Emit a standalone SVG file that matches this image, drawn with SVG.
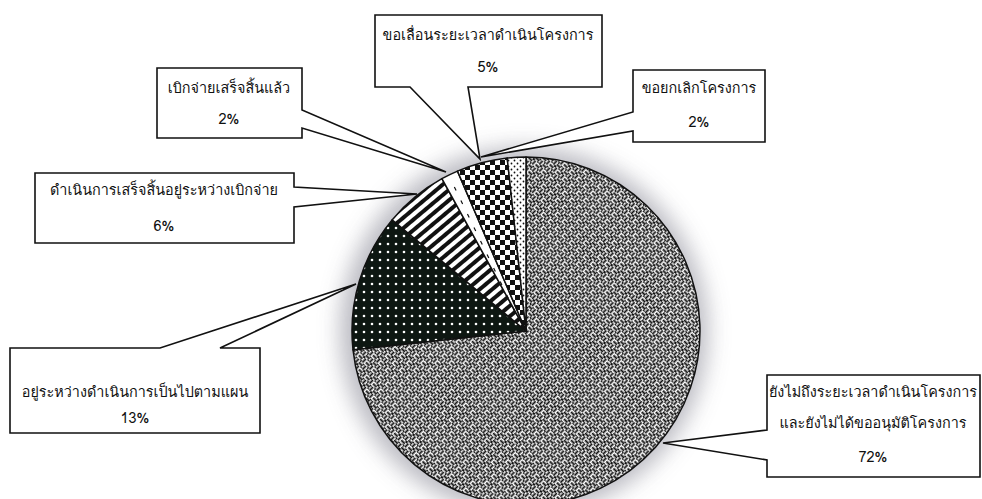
<svg xmlns="http://www.w3.org/2000/svg" width="982" height="499" viewBox="0 0 982 499">
<style>
.lbl{font-family:Loma,Garuda,Tahoma,"Noto Sans Thai","DejaVu Sans","Noto Sans",sans-serif;font-size:14.4px;fill:#111;text-anchor:middle}
.box{fill:#fff;stroke:#111;stroke-width:1.6;stroke-linejoin:miter}
.slice{stroke:#111;stroke-width:1.5;stroke-linejoin:round}
</style>
<defs>
<filter id="glow" x="-30%" y="-30%" width="160%" height="160%"><feGaussianBlur stdDeviation="11"/></filter>
<pattern id="weave" width="10" height="10" patternUnits="userSpaceOnUse" patternTransform="rotate(45)">
<rect width="10" height="10" fill="#fff"/>
<path d="M0,2.5H5M7.5,0V5M2.5,5V10M5,7.5H10M0,0H1.2M3.8,0H5M5,3.8V5M5,0V1.2M0,5H1.2M0,8.8V10M8.8,5H10M8.8,10H10" stroke="#111" stroke-width="1.9" fill="none"/>
</pattern>
<pattern id="dots" width="8" height="8" patternUnits="userSpaceOnUse">
<rect width="8" height="8" fill="#0e1712"/>
<circle cx="4" cy="4" r="1.3" fill="#fff"/>
</pattern>
<pattern id="stripes" width="8" height="8" patternUnits="userSpaceOnUse" patternTransform="rotate(50)">
<rect width="8" height="8" fill="#fff"/>
<rect width="4" height="8" fill="#111"/>
</pattern>
<pattern id="checker" width="10" height="10" patternUnits="userSpaceOnUse">
<rect width="10" height="10" fill="#fff"/>
<rect width="5" height="5" fill="#111"/>
<rect x="5" y="5" width="5" height="5" fill="#111"/>
</pattern>
<pattern id="fine" width="6" height="6" patternUnits="userSpaceOnUse">
<rect width="6" height="6" fill="#fff"/>
<circle cx="1.5" cy="1.5" r="0.9" fill="#111"/>
<circle cx="4.5" cy="4.5" r="0.9" fill="#111"/>
</pattern>
</defs>
<rect width="982" height="499" fill="#fff"/>
<circle cx="524" cy="331" r="184" fill="#b4b4bc" filter="url(#glow)" opacity="0.9"/>
<g id="pie">
<path class="slice" fill="url(#weave)" d="M526,331 L526,157 A174,174 0 1 1 353.0,349.8 Z"/>
<path class="slice" fill="url(#dots)" d="M526,331 L353.0,349.8 A174,174 0 0 1 392.1,219.9 Z"/>
<path class="slice" fill="url(#stripes)" d="M526,331 L392.1,219.9 A174,174 0 0 1 441.9,178.7 Z"/>
<path class="slice" fill="#fff" d="M526,331 L441.9,178.7 A174,174 0 0 1 457.5,171.1 Z"/>
<path d="M515,312 L451,180" stroke="#111" stroke-width="1.2" stroke-dasharray="4 11" fill="none"/>
<path class="slice" fill="url(#checker)" d="M526,331 L457.5,171.1 A174,174 0 0 1 507.2,158.0 Z"/>
<path class="slice" fill="url(#fine)" d="M526,331 L507.2,158.0 A174,174 0 0 1 526,157 Z"/>
</g>
<g id="connectors">
<path class="box" d="M375,15 H602 V87 H468 L480,159 L410,87 H375 Z"/>
<path class="box" d="M633,70 H765 V142 H633 V131 L481,157 L633,112 Z"/>
<path class="box" d="M157,68 H302 V110 L446,172 L302,128 V138 H157 Z"/>
<path class="box" d="M35,173 H294 V187 L417,194 L294,207 V243 H35 Z"/>
<path class="box" d="M10,348 H160 L356,284 L220,348 H260 V433 H10 Z"/>
<path class="box" d="M767,375 H980 V477 H767 V460 L663,443 L767,430 Z"/>
</g>
<g id="n5"><text class="lbl" x="488" y="40">ขอเลื่อนระยะเวลาดำเนินโครงการ</text><text class="lbl" x="488" y="72">5%</text></g>
<g id="n2c"><text class="lbl" x="699" y="93">ขอยกเลิกโครงการ</text><text class="lbl" x="699" y="127">2%</text></g>
<g id="n2d"><text class="lbl" x="229" y="93">เบิกจ่ายเสร็จสิ้นแล้ว</text><text class="lbl" x="229" y="124">2%</text></g>
<g id="n6"><text class="lbl" x="164" y="195">ดำเนินการเสร็จสิ้นอยู่ระหว่างเบิกจ่าย</text><text class="lbl" x="164" y="231">6%</text></g>
<g id="n13"><text class="lbl" x="135" y="397">อยู่ระหว่างดำเนินการเป็นไปตามแผน</text><text class="lbl" x="135" y="423">13%</text></g>
<g id="n72"><text class="lbl" x="873" y="397">ยังไม่ถึงระยะเวลาดำเนินโครงการ</text><text class="lbl" x="873" y="428">และยังไม่ได้ขออนุมัติโครงการ</text><text class="lbl" x="873" y="462">72%</text></g>
</svg>
